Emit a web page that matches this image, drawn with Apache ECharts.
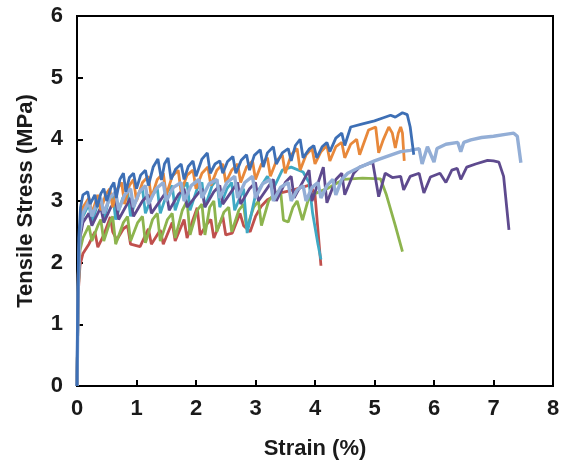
<!DOCTYPE html>
<html>
<head>
<meta charset="utf-8">
<script src="https://cdn.jsdelivr.net/npm/echarts@6/dist/echarts.min.js"></script>
<style>html,body{margin:0;padding:0;background:#fff}#c{width:563px;height:470px}</style>
</head>
<body>
<div id="c"></div>
<script>
const xTicks = [0,1,2,3,4,5,6,7,8];
const yTicks = [0,1,2,3,4,5,6];

const redData = [[0,0],[0.02,1.5],[0.05,1.95],[0.1,2.15],[0.2,2.3],[0.3,2.5],[0.35,2.25],[0.45,2.45],[0.56,2.74],[0.6,2.5],[0.67,2.37],[0.78,2.55],[0.85,2.6],[0.9,2.3],[1.06,2.26],[1.2,2.55],[1.25,2.3],[1.4,2.53],[1.45,2.3],[1.6,2.65],[1.65,2.35],[1.8,2.7],[1.85,2.4],[1.95,2.7],[2.02,2.89],[2.07,2.45],[2.18,2.62],[2.25,2.7],[2.3,2.4],[2.45,2.75],[2.5,2.45],[2.61,2.48],[2.74,2.8],[2.8,2.6],[2.91,2.5],[3.0,2.75],[3.1,2.92],[3.2,3.02],[3.42,3.13],[3.64,3.18],[3.92,3.26],[4.0,3.1],[4.1,1.95]];

const greenData = [[0,0],[0.02,1.5],[0.05,2.2],[0.1,2.4],[0.2,2.6],[0.25,2.35],[0.35,2.6],[0.4,2.7],[0.45,2.35],[0.55,2.65],[0.6,2.75],[0.65,2.3],[0.78,2.65],[0.85,2.75],[0.9,2.35],[1.02,2.65],[1.1,2.75],[1.15,2.32],[1.27,2.7],[1.35,2.8],[1.4,2.35],[1.52,2.7],[1.6,2.8],[1.65,2.4],[1.77,2.85],[1.85,3.0],[1.9,2.45],[2.02,2.85],[2.1,2.95],[2.15,2.45],[2.23,2.9],[2.3,3.0],[2.35,2.5],[2.47,2.82],[2.55,2.9],[2.6,2.5],[2.72,2.85],[2.8,2.95],[2.85,2.55],[2.97,2.9],[3.05,3.0],[3.1,2.6],[3.22,3.0],[3.3,3.1],[3.42,3.18],[3.47,2.69],[3.55,2.66],[3.63,2.9],[3.7,3.0],[3.79,2.69],[3.88,3.0],[3.95,3.1],[4.2,3.2],[4.48,3.35],[4.8,3.37],[5.1,3.36],[5.2,3.1],[5.35,2.6],[5.47,2.18]];

const tealData = [[0,0],[0.02,1.6],[0.05,2.5],[0.1,2.75],[0.2,2.95],[0.25,2.65],[0.33,2.9],[0.4,3.0],[0.45,2.7],[0.53,3.0],[0.6,3.1],[0.65,2.7],[0.77,3.05],[0.85,3.15],[0.9,2.75],[1.02,3.1],[1.1,3.2],[1.15,2.8],[1.27,3.1],[1.35,3.2],[1.4,2.8],[1.52,3.15],[1.6,3.25],[1.65,2.85],[1.77,3.2],[1.85,3.3],[1.9,2.85],[2.02,3.2],[2.1,3.3],[2.15,2.9],[2.27,3.25],[2.35,3.35],[2.4,2.9],[2.52,3.2],[2.6,3.3],[2.65,2.85],[2.8,3.2],[2.86,2.48],[3.0,3.1],[3.2,3.4],[3.3,3.2],[3.45,3.5],[3.6,3.55],[3.8,3.47],[3.9,3.3],[3.96,2.8],[4.05,2.3],[4.1,2.05]];

const purpleData = [[0,0],[0.02,1.5],[0.05,2.4],[0.1,2.65],[0.2,2.8],[0.25,2.6],[0.4,2.9],[0.45,2.65],[0.57,2.9],[0.65,3.0],[0.7,2.7],[0.9,3.05],[0.95,2.75],[1.1,3.0],[1.2,3.1],[1.25,2.8],[1.5,3.15],[1.55,2.85],[1.7,3.1],[1.8,3.2],[1.85,2.9],[2.1,3.2],[2.15,2.9],[2.3,3.15],[2.4,3.25],[2.45,2.95],[2.7,3.3],[2.75,2.95],[2.9,3.2],[3.0,3.3],[3.05,3.0],[3.3,3.35],[3.35,3.0],[3.5,3.3],[3.6,3.4],[3.65,3.05],[3.9,3.5],[3.95,3.0],[4.14,3.55],[4.2,2.97],[4.35,3.35],[4.45,3.45],[4.5,3.1],[4.65,3.45],[4.75,3.55],[4.97,3.63],[5.07,3.07],[5.18,3.45],[5.3,3.38],[5.44,3.4],[5.49,3.18],[5.6,3.4],[5.75,3.45],[5.83,3.13],[5.94,3.39],[6.1,3.45],[6.2,3.3],[6.3,3.5],[6.39,3.53],[6.45,3.35],[6.55,3.55],[6.7,3.6],[6.9,3.66],[7.0,3.65],[7.09,3.63],[7.17,3.4],[7.26,2.53]];

const orangeData = [[0,0],[0.02,1.8],[0.05,2.6],[0.1,2.9],[0.2,3.05],[0.25,2.8],[0.35,3.1],[0.4,2.85],[0.48,3.1],[0.55,3.2],[0.6,2.9],[0.68,3.2],[0.75,3.3],[0.8,2.95],[0.88,3.25],[0.95,3.35],[1.0,3.0],[1.1,3.3],[1.2,3.4],[1.25,3.05],[1.35,3.35],[1.45,3.45],[1.5,3.1],[1.6,3.4],[1.7,3.5],[1.75,3.15],[1.85,3.42],[1.95,3.5],[2.0,3.2],[2.1,3.45],[2.2,3.55],[2.25,3.25],[2.35,3.5],[2.45,3.6],[2.5,3.3],[2.6,3.5],[2.7,3.6],[2.75,3.3],[2.85,3.55],[2.95,3.65],[3.0,3.35],[3.1,3.6],[3.2,3.7],[3.25,3.4],[3.35,3.65],[3.45,3.75],[3.5,3.45],[3.6,3.75],[3.7,3.85],[3.75,3.5],[3.85,3.75],[3.95,3.85],[4.0,3.6],[4.1,3.8],[4.2,3.9],[4.25,3.65],[4.35,3.88],[4.45,3.95],[4.5,3.7],[4.6,3.92],[4.7,4.0],[4.75,3.75],[4.9,4.15],[5.02,4.2],[5.07,3.78],[5.15,4.0],[5.24,4.2],[5.3,4.1],[5.35,3.86],[5.4,4.1],[5.44,4.2],[5.47,4.1],[5.5,3.65]];

const paleData = [[0,0],[0.02,1.6],[0.05,2.5],[0.1,2.8],[0.2,3.0],[0.25,2.75],[0.33,2.95],[0.4,3.05],[0.45,2.8],[0.55,3.05],[0.65,3.15],[0.7,2.85],[0.8,3.1],[0.9,3.2],[0.95,2.9],[1.05,3.15],[1.15,3.25],[1.2,2.95],[1.33,3.2],[1.45,3.3],[1.5,3.0],[1.62,3.22],[1.75,3.3],[1.8,3.0],[1.92,3.25],[2.05,3.35],[2.1,3.05],[2.22,3.28],[2.35,3.35],[2.4,3.05],[2.52,3.3],[2.65,3.4],[2.7,3.05],[2.82,3.3],[2.95,3.4],[3.0,3.05],[3.12,3.28],[3.25,3.35],[3.3,3.0],[3.42,3.22],[3.55,3.3],[3.6,3.0],[3.7,3.18],[3.8,3.25],[3.85,3.0],[3.95,3.22],[4.05,3.3],[4.1,3.05],[4.2,3.25],[4.3,3.35],[4.35,3.1],[4.45,3.35],[4.55,3.45],[4.76,3.55],[5.0,3.65],[5.2,3.72],[5.44,3.8],[5.6,3.82],[5.75,3.85],[5.8,3.6],[5.89,3.88],[6.0,3.63],[6.05,3.85],[6.2,3.92],[6.4,3.95],[6.45,3.8],[6.5,3.95],[6.62,3.99],[6.8,4.03],[7.0,4.05],[7.2,4.08],[7.34,4.1],[7.4,4.05],[7.46,3.62]];

const blueData = [[0,0],[0.01,1.2],[0.03,2.4],[0.06,2.9],[0.1,3.1],[0.18,3.15],[0.22,2.95],[0.3,3.1],[0.34,2.9],[0.4,3.12],[0.45,3.2],[0.5,3.0],[0.57,3.22],[0.62,3.3],[0.66,3.05],[0.72,3.35],[0.78,3.45],[0.82,3.15],[0.88,3.38],[0.95,3.45],[1.0,3.2],[1.07,3.42],[1.15,3.5],[1.2,3.25],[1.28,3.55],[1.36,3.68],[1.42,3.34],[1.47,3.6],[1.53,3.7],[1.58,3.35],[1.66,3.52],[1.75,3.6],[1.8,3.35],[1.87,3.56],[1.95,3.65],[2.0,3.4],[2.1,3.68],[2.19,3.78],[2.24,3.45],[2.32,3.6],[2.4,3.65],[2.45,3.45],[2.53,3.64],[2.62,3.72],[2.67,3.45],[2.76,3.66],[2.85,3.75],[2.9,3.5],[2.98,3.74],[3.08,3.83],[3.13,3.55],[3.2,3.78],[3.3,3.88],[3.35,3.6],[3.45,3.78],[3.55,3.85],[3.6,3.65],[3.67,3.9],[3.75,4.0],[3.8,3.7],[3.9,3.84],[3.98,3.9],[4.03,3.7],[4.12,3.88],[4.2,3.95],[4.25,3.8],[4.35,4.02],[4.45,4.1],[4.5,3.9],[4.6,4.2],[4.8,4.25],[5.0,4.3],[5.15,4.35],[5.27,4.39],[5.35,4.36],[5.47,4.43],[5.55,4.4],[5.6,4.2],[5.66,3.75]];

const seriesList = [
  {name:'Red', data:redData, color:'#C0504D', width:2.8},
  {name:'Green', data:greenData, color:'#8DB44E', width:2.8},
  {name:'Teal', data:tealData, color:'#3FA9C4', width:2.8},
  {name:'Purple', data:purpleData, color:'#5E4A8E', width:2.8},
  {name:'Orange', data:orangeData, color:'#E8883A', width:2.8},
  {name:'Pale', data:paleData, color:'#93AED6', width:3.4},
  {name:'Blue', data:blueData, color:'#3D6FB5', width:2.8}
];

const font = '"Liberation Sans", Arial, sans-serif';
const chart = echarts.init(document.getElementById('c'));
chart.setOption({
  animation:false,
  backgroundColor:'#fff',
  grid:{left:77,right:10,top:16,bottom:84,show:true,borderColor:'#000',borderWidth:2,backgroundColor:'transparent'},
  xAxis:{
    type:'value',min:xTicks[0],max:xTicks[xTicks.length-1],interval:1,
    name:'Strain (%)',nameLocation:'middle',nameGap:52,
    nameTextStyle:{fontFamily:font,fontWeight:'bold',fontSize:22,color:'#1a1a1a'},
    axisLine:{show:true,lineStyle:{color:'#000',width:2}},
    axisTick:{show:true,inside:true,length:6,lineStyle:{color:'#000',width:2}},
    axisLabel:{fontFamily:font,fontWeight:'bold',fontSize:22,color:'#1a1a1a',margin:12},
    splitLine:{show:false}
  },
  yAxis:{
    type:'value',min:yTicks[0],max:yTicks[yTicks.length-1],interval:1,
    name:'Tensile Stress (MPa)',nameLocation:'middle',nameGap:40,
    nameTextStyle:{fontFamily:font,fontWeight:'bold',fontSize:22,color:'#1a1a1a'},
    axisLine:{show:true,lineStyle:{color:'#000',width:2}},
    axisTick:{show:true,inside:true,length:6,lineStyle:{color:'#000',width:2}},
    axisLabel:{fontFamily:font,fontWeight:'bold',fontSize:22,color:'#1a1a1a',margin:14},
    splitLine:{show:false}
  },
  series: seriesList.map(s => ({
    type:'line', name:s.name, data:s.data, showSymbol:false, symbol:'none',
    lineStyle:{color:s.color,width:s.width}, itemStyle:{color:s.color}
  }))
});
</script>
</body>
</html>
